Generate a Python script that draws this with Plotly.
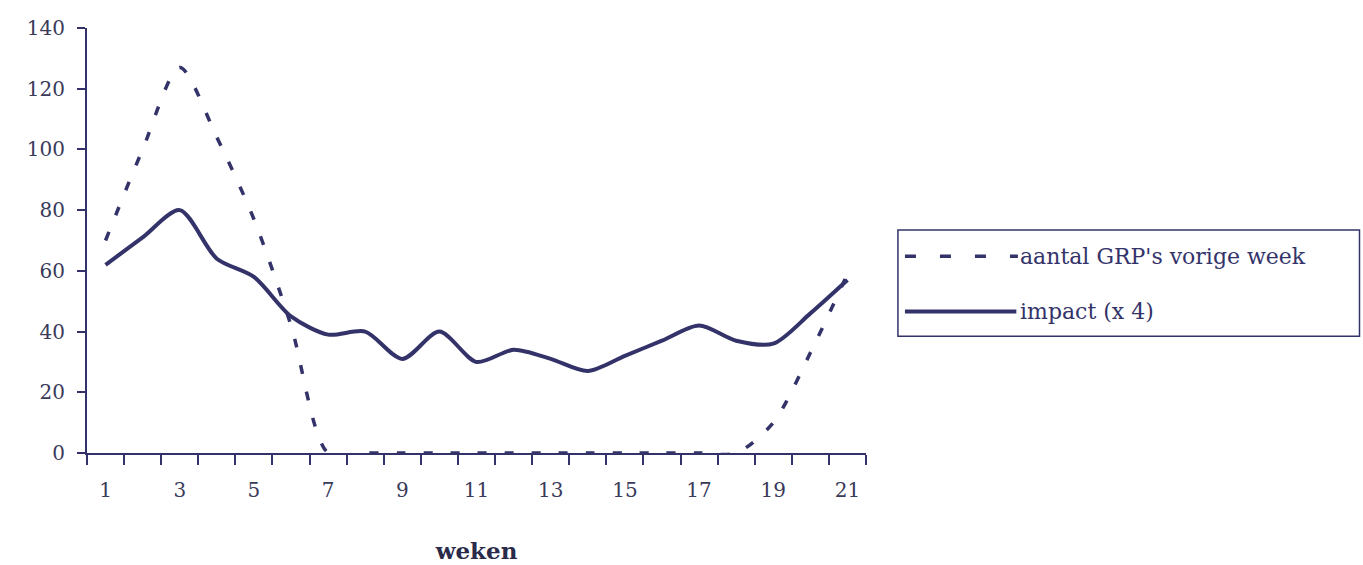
import plotly.graph_objects as go

weeks = list(range(1, 22))
grp_prev_week = [70, 100, 127, 104, 77, 42, 0, 0, 0, 0, 0, 0, 0, 0, 0, 0, 0, 0, 10, 33, 59]
impact_x4 = [62, 71, 80, 64, 58, 45, 39, 40, 31, 40, 30, 34, 31, 27, 32, 37, 42, 37, 36, 46, 57]
x_labels = [str(w) for w in weeks if w % 2 == 1]
x_label_vals = [w for w in weeks if w % 2 == 1]
y_ticks = list(range(0, 141, 20))
name_grp = "aantal GRP's vorige week"
name_imp = "impact (x 4)"
x_title = "weken"

navy = "#33336a"
font_family = "DejaVu Serif"

fig = go.Figure()
fig.add_trace(go.Scatter(x=weeks, y=grp_prev_week, mode="lines", name=name_grp,
                         line=dict(color=navy, width=3.5, dash="9px,18px", shape="spline", smoothing=0.8),
                         showlegend=False))
fig.add_trace(go.Scatter(x=weeks, y=impact_x4, mode="lines", name=name_imp,
                         line=dict(color=navy, width=4, shape="spline", smoothing=0.8),
                         showlegend=False))

# manual legend (paper coords)
lx0, lx1, ly0, ly1 = 1.041, 1.6335, 0.275, 0.525
fig.add_shape(type="rect", xref="paper", yref="paper", x0=lx0, x1=lx1, y0=ly0, y1=ly1,
              line=dict(color=navy, width=1.5), fillcolor="white")
fig.add_shape(type="line", xref="paper", yref="paper", x0=1.05, x1=1.195, y0=0.463, y1=0.463,
              line=dict(color=navy, width=3.5, dash="11px,24px"))
fig.add_shape(type="line", xref="paper", yref="paper", x0=1.05, x1=1.193, y0=0.333, y1=0.333,
              line=dict(color=navy, width=4))
fig.add_annotation(xref="paper", yref="paper", x=1.195, y=0.463, text=name_grp, showarrow=False,
                   xanchor="left", yanchor="middle", font=dict(family=font_family, size=22, color=navy))
fig.add_annotation(xref="paper", yref="paper", x=1.195, y=0.333, text=name_imp, showarrow=False,
                   xanchor="left", yanchor="middle", font=dict(family=font_family, size=22, color=navy))

fig.update_layout(
    width=1363, height=565,
    margin=dict(l=87, r=497, t=28, b=112),
    paper_bgcolor="white", plot_bgcolor="white",
    font=dict(family=font_family, size=20, color="#3a3a5a"),
    xaxis=dict(
        range=[0.5, 21.5], showgrid=False, zeroline=False, automargin=False,
        showline=True, linecolor=navy, linewidth=2,
        tickmode="array", tickvals=x_label_vals, ticktext=x_labels,
        ticks="", ticklen=0, ticklabelstandoff=18,
        tickfont=dict(family=font_family, size=20, color="#3a3a5a"),
        minor=dict(tickmode="array", tickvals=[w - 0.5 for w in weeks] + [21.5],
                   ticks="outside", ticklen=10, tickwidth=2, tickcolor=navy),
        title=dict(text="<b>" + x_title + "</b>", standoff=42,
                   font=dict(family=font_family, size=23, color="#2a2a4a")),
    ),
    yaxis=dict(
        range=[0, 140], showgrid=False, zeroline=False, automargin=False,
        showline=True, linecolor=navy, linewidth=2,
        tickmode="array", tickvals=y_ticks,
        ticks="outside", ticklen=8, tickwidth=2, tickcolor=navy,
        ticklabelstandoff=8,
        tickfont=dict(family=font_family, size=20, color="#3a3a5a"),
    ),
)

fig.write_html("out.html")
